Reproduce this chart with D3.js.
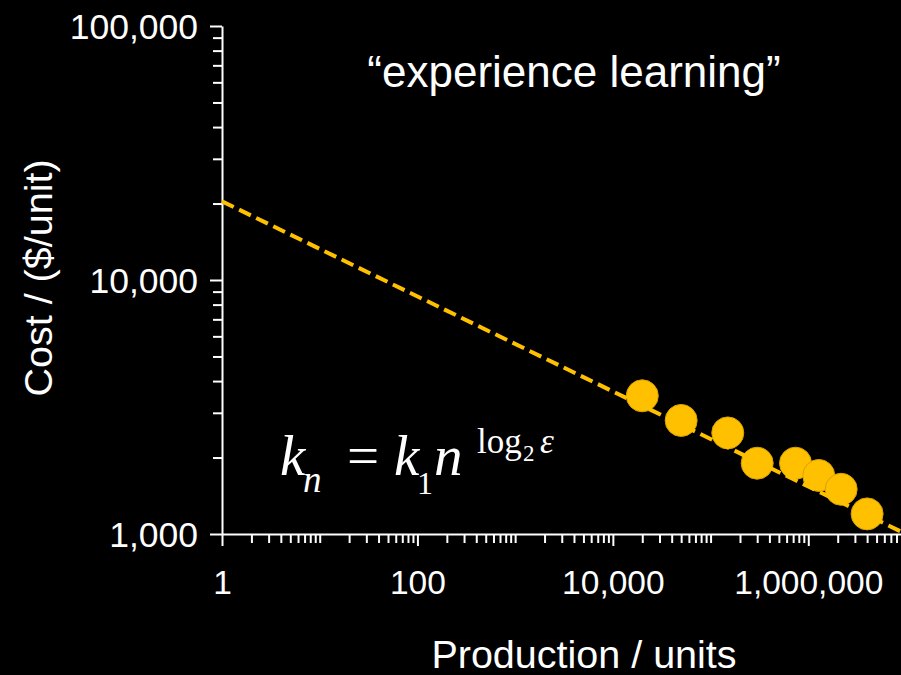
<!DOCTYPE html>
<html>
<head>
<meta charset="utf-8">
<script src="https://cdn.jsdelivr.net/npm/d3@7"></script>
<style>
  html, body { margin: 0; padding: 0; background: #000; }
  svg { display: block; }
  text { fill: #fff; }
</style>
</head>
<body>
<svg id="chart" width="901" height="675"></svg>
<script>
// Observed production volumes (units) and unit costs ($/unit)
const production = [20000, 50000, 150000, 300000, 740000, 1280000, 2170000, 4000000];
const unitCost   = [3500, 2800, 2500, 1900, 1900, 1700, 1500, 1200];

// Experience curve end points (straight line in log-log space)
const trendProduction = [1, 10000000];
const trendCost       = [20400, 1000];

// Labelled ticks
const xTickLabels = [1, 100, 10000, 1000000];
const yTickLabels = [1000, 10000, 100000];

const gold = "#FFC000";
const svg = d3.select("#chart");
const fmt = d3.format(",");
const sans = "'Liberation Sans', Arial, Helvetica, sans-serif";
const serif = "'Liberation Serif', 'Times New Roman', Times, serif";

svg.append("rect").attr("width", 901).attr("height", 675).attr("fill", "#000");

const x = d3.scaleLog().domain([1, 10000000]).range([222, 906]);
const y = d3.scaleLog().domain([1000, 100000]).range([534, 26]);

// every 1..9 x 10^k inside a domain
function logTicks(lo, hi) {
  const out = [];
  for (let p = Math.log10(lo); p < Math.log10(hi); p++) {
    for (let m = 1; m <= 9; m++) out.push(m * Math.pow(10, p));
  }
  out.push(hi);
  return out;
}
const xMinor = logTicks(1, 10000000).filter(v => !xTickLabels.includes(v));
const yMinor = logTicks(1000, 100000).filter(v => !yTickLabels.includes(v));

const axisStyle = size => g => {
  g.selectAll("path.domain").attr("stroke", "#fff").attr("stroke-width", 2);
  g.selectAll(".tick line").attr("stroke", "#fff").attr("stroke-width", 2);
  g.selectAll(".tick text")
    .attr("fill", "#fff")
    .style("font-family", sans)
    .style("font-size", size + "px");
};

// x axis: minor ticks, then labelled major ticks with the axis line
svg.append("g")
  .attr("transform", `translate(0,${y(1000)})`)
  .call(d3.axisBottom(x).tickValues(xMinor).tickSize(9).tickSizeOuter(0).tickFormat(""))
  .call(g => g.select("path.domain").remove())
  .call(axisStyle(33));

svg.append("g")
  .attr("transform", `translate(0,${y(1000)})`)
  .call(d3.axisBottom(x).tickValues(xTickLabels).tickSize(12).tickSizeOuter(0)
    .tickPadding(24).tickFormat(fmt))
  .call(axisStyle(33.5));

// y axis
svg.append("g")
  .attr("transform", `translate(${x(1)},0)`)
  .call(d3.axisLeft(y).tickValues(yMinor).tickSize(9).tickSizeOuter(0).tickFormat(""))
  .call(g => g.select("path.domain").remove())
  .call(axisStyle(35));

svg.append("g")
  .attr("transform", `translate(${x(1)},0)`)
  .call(d3.axisLeft(y).tickValues(yTickLabels).tickSize(12).tickSizeOuter(0)
    .tickPadding(12).tickFormat(fmt))
  .call(axisStyle(35.5))
  .call(g => g.selectAll(".tick text").attr("dy", "0.36em"));

// data points
svg.append("g")
  .selectAll("circle")
  .data(production.map((p, i) => ({ p, c: unitCost[i] })))
  .join("circle")
  .attr("cx", d => x(d.p))
  .attr("cy", d => y(d.c))
  .attr("r", 16)
  .attr("fill", gold)
  .attr("stroke", "#D9A200")
  .attr("stroke-width", 1);

// experience curve
svg.append("path")
  .datum(trendProduction.map((p, i) => ({ p, c: trendCost[i] })))
  .attr("fill", "none")
  .attr("stroke", gold)
  .attr("stroke-width", 4)
  .attr("stroke-dasharray", "13,6")
  .attr("d", d3.line().x(d => x(d.p)).y(d => y(d.c)));

// axis titles
svg.append("text")
  .attr("x", 584).attr("y", 668)
  .attr("text-anchor", "middle")
  .style("font-family", sans).style("font-size", "39.5px")
  .text("Production / units");

svg.append("text")
  .attr("transform", "translate(52,278) rotate(-90)")
  .attr("text-anchor", "middle")
  .style("font-family", sans).style("font-size", "39.5px")
  .text("Cost / ($/unit)");

// caption
svg.append("text")
  .attr("x", 574).attr("y", 87)
  .attr("text-anchor", "middle")
  .style("font-family", sans).style("font-size", "44px")
  .text("\u201Cexperience learning\u201D");

// learning-curve formula  k_n = k_1 n^(log2 ε)
const eq = svg.append("text").style("font-family", serif);
const parts = [
  { t: "k",   x: 280, y: 475, s: 57, i: true },
  { t: "n",   x: 303, y: 492, s: 37, i: true },
  { t: "=",   x: 347, y: 475, s: 57, i: false },
  { t: "k",   x: 394, y: 475, s: 57, i: true },
  { t: "1",   x: 417, y: 494, s: 32, i: false },
  { t: "n",   x: 434, y: 475, s: 57, i: true },
  { t: "log", x: 477, y: 453, s: 35, i: false },
  { t: "2",   x: 523, y: 461, s: 23, i: false },
  { t: "\u03B5", x: 540, y: 453, s: 35, i: true }
];
eq.selectAll("tspan")
  .data(parts)
  .join("tspan")
  .attr("x", d => d.x)
  .attr("y", d => d.y)
  .style("font-size", d => d.s + "px")
  .style("font-style", d => d.i ? "italic" : "normal")
  .text(d => d.t);
</script>
</body>
</html>
